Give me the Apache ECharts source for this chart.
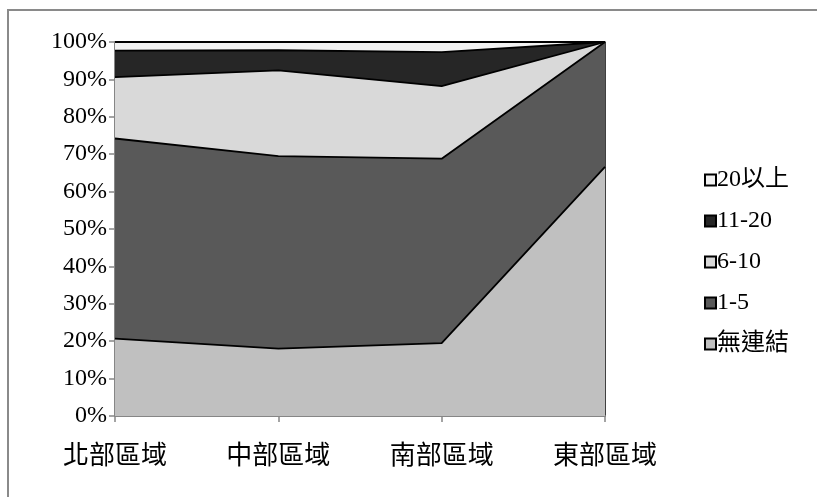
<!DOCTYPE html>
<html>
<head>
<meta charset="utf-8">
<script src="https://cdn.jsdelivr.net/npm/echarts@6/dist/echarts.min.js"></script>
<style>
  html, body { margin: 0; padding: 0; background: #fff; }
  #frame { position: absolute; left: 7px; top: 9px; width: 810px; height: 488px;
           border-top: 2px solid #8a8a8a; border-left: 2px solid #8a8a8a; }
  #main { position: absolute; left: 0; top: 0; width: 817px; height: 497px; }
</style>
</head>
<body>
<div id="frame"></div>
<div id="main"></div>
<script>
// 區域
var regions = ['北部區域', '中部區域', '南部區域', '東部區域'];
// 各連結數比例 (%)
var noLink = [20.7, 18.0, 19.5, 66.6];
var link1to5 = [53.5, 51.5, 49.3, 33.4];
var link6to10 = [16.4, 22.9, 19.4, 0];
var link11to20 = [7.1, 5.4, 9.1, 0];
var link20up = [2.3, 2.2, 2.7, 0];
var yTicks = [0, 10, 20, 30, 40, 50, 60, 70, 80, 90, 100];

var seriesNames = ['無連結', '1-5', '6-10', '11-20', '20以上'];
var seriesData = [noLink, link1to5, link6to10, link11to20, link20up];
var seriesColors = ['#c0c0c0', '#595959', '#d9d9d9', '#262626', '#f2f2f2'];

var font = '"Liberation Serif", "Noto Sans CJK TC", serif';

var series = [];
for (var i = 0; i < seriesNames.length; i++) {
    series.push({
        name: seriesNames[i],
        type: 'line',
        stack: 'total',
        symbol: 'none',
        data: seriesData[i],
        lineStyle: { color: '#000', width: 1.8 },
        itemStyle: { color: seriesColors[i], borderColor: '#000', borderWidth: 1.5 },
        areaStyle: { color: seriesColors[i], opacity: 1 }
    });
}

var myChart = echarts.init(document.getElementById('main'));
var option = {
    animation: false,
    grid: { left: 115, right: 212, top: 42, bottom: 81 },
    legend: {
        orient: 'vertical',
        left: 699,
        top: 163,
        itemGap: 17,
        itemWidth: 11,
        itemHeight: 11,
        icon: 'rect',
        data: ['20以上', '11-20', '6-10', '1-5', '無連結'],
        textStyle: { fontFamily: font, fontSize: 24, color: '#000', padding: [0, 0, 0, -4] }
    },
    xAxis: {
        type: 'category',
        boundaryGap: false,
        data: regions,
        axisLine: { lineStyle: { color: '#868686', width: 2 } },
        axisTick: { show: true, alignWithLabel: true, length: 6, lineStyle: { color: '#868686', width: 1.5 } },
        axisLabel: { fontFamily: font, fontSize: 26, color: '#000', margin: 28 }
    },
    yAxis: [{
        type: 'value',
        min: 0,
        max: 100,
        interval: 10,
        axisLine: { show: true, lineStyle: { color: '#868686', width: 2 } },
        axisTick: { show: true, length: 6, lineStyle: { color: '#868686', width: 1.5 } },
        splitLine: { show: false },
        axisLabel: {
            fontFamily: font, fontSize: 24, color: '#000', margin: 8,
            formatter: function (v) { return yTicks.indexOf(v) >= 0 ? v + '%' : ''; }
        }
    }, {
        type: 'value',
        position: 'right',
        min: 0,
        max: 100,
        axisLine: { show: true, lineStyle: { color: '#000', width: 1.5 } },
        axisTick: { show: false },
        axisLabel: { show: false },
        splitLine: { show: false }
    }],
    series: series
};
myChart.setOption(option);
</script>
</body>
</html>
